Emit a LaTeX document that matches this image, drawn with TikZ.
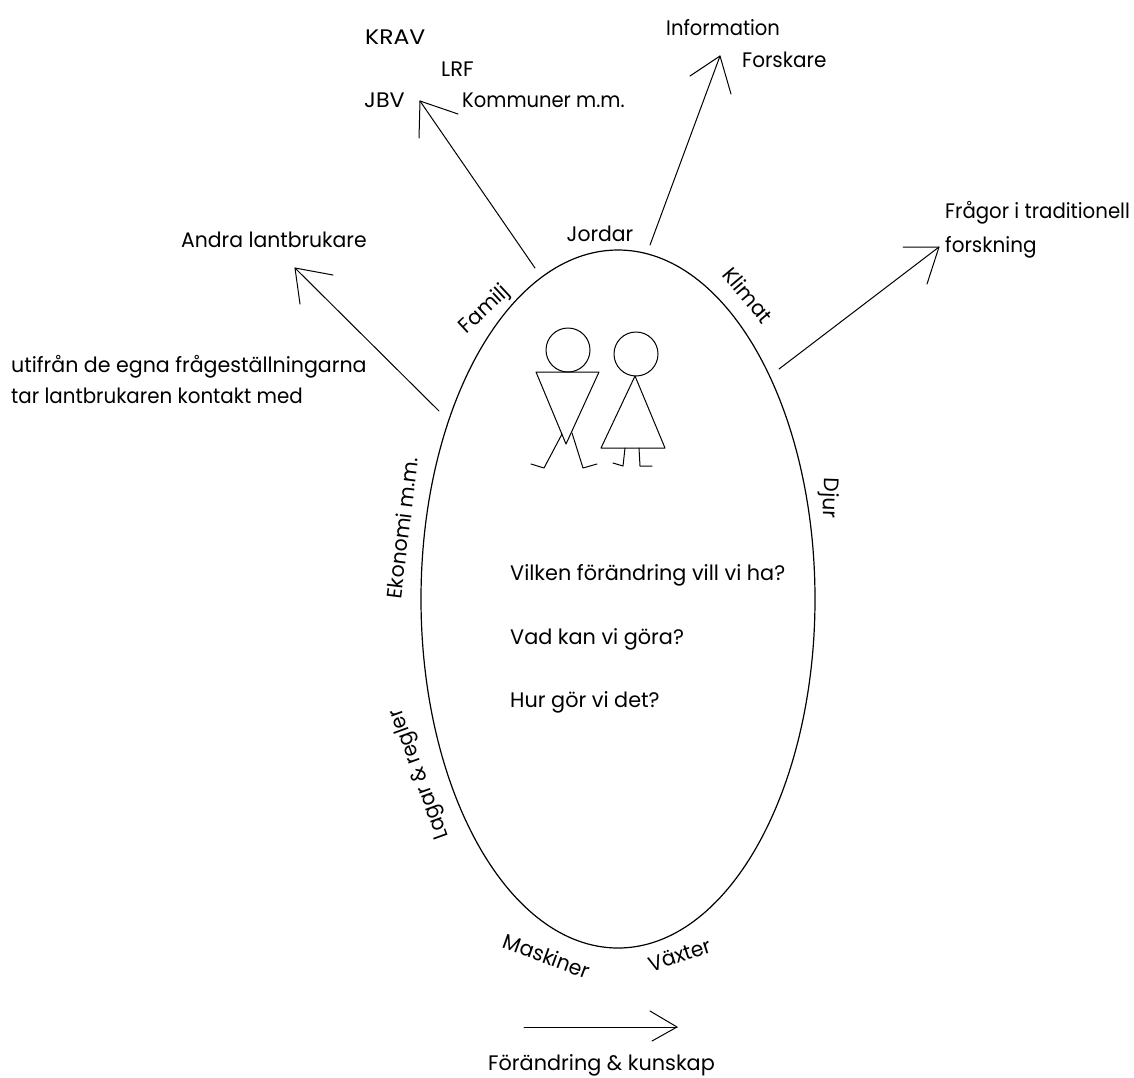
\documentclass[tikz,border=0pt]{standalone}
\usepackage{fontspec}
\usepackage{graphicx}
\usetikzlibrary{shapes.geometric}
\setmainfont{Poppins}
\newcommand{\sqz}[2]{\scalebox{#1}[1]{#2}}
\tikzset{
  ln/.style={draw=black,line width=1pt,line cap=round,line join=round},
  lbl/.style={inner sep=0pt,anchor=base west,font=\fontsize{21}{25}\selectfont},
  rlbl/.style={inner sep=0pt,anchor=center,font=\fontsize{21}{25}\selectfont},
}
\begin{document}
\begin{tikzpicture}[x=1pt,y=-1pt]
\useasboundingbox (0,0) rectangle (1134,1077);
\node[draw=black,line width=1.2pt,ellipse,minimum width=394pt,minimum height=698pt,inner sep=0pt] (oval) at (618,599) {};
% people
\node[ln,circle,minimum size=44pt,inner sep=0pt] (headA) at (568,350) {};
\node[ln,circle,minimum size=44pt,inner sep=0pt] (headB) at (636,354) {};
\draw[ln] (536,372) -- (599,372) -- (566,444) -- cycle;
\draw[ln] (562,434) -- (544,468) -- (531,464);
\draw[ln] (572,433) -- (583,468) -- (597,464);
\draw[ln] (635,376) -- (601,448) -- (665,448) -- cycle;
\draw[ln] (625,448) -- (623,466) -- (613,463);
\draw[ln] (639,448) -- (640,466) -- (652,466);
% arrows
\coordinate (a1s) at (439,411); \coordinate (a1t) at (295,268);
\coordinate (a2s) at (535,268); \coordinate (a2t) at (420,101);
\coordinate (a3s) at (650,245); \coordinate (a3t) at (720,56);
\coordinate (a4s) at (779,369); \coordinate (a4t) at (939,247);
\coordinate (a5s) at (524,1027); \coordinate (a5t) at (677,1027);
\draw[ln] (a1s) -- (a1t); \draw[ln] (333,275) -- (a1t) -- (300,304);
\draw[ln] (a2s) -- (a2t); \draw[ln] (458,114) -- (a2t) -- (419,138);
\draw[ln] (a3s) -- (a3t); \draw[ln] (690,76) -- (a3t) -- (731,94);
\draw[ln] (a4s) -- (a4t); \draw[ln] (903,247) -- (a4t) -- (927,284);
\draw[ln] (a5s) -- (a5t); \draw[ln] (650,1011) -- (a5t) -- (652,1041);
% text
\node[lbl] (t1) at (365,44) {\sqz{1.12}{KRAV}};
\node[lbl] (t2) at (441,76) {LRF};
\node[lbl] (t3) at (364,107) {\sqz{1.06}{JBV}};
\node[lbl] (t4) at (462,107) {\sqz{.93}{Kommuner m.m.}};
\node[lbl] (t5) at (666,35) {\sqz{.93}{Information}};
\node[lbl] (t6) at (742,67) {\sqz{.95}{Forskare}};
\node[lbl] (t7) at (945,218) {\sqz{.94}{Frågor i traditionell}};
\node[lbl] (t8) at (945,252) {\sqz{.95}{forskning}};
\node[lbl] (t9) at (181,247) {\sqz{.97}{Andra lantbrukare}};
\node[lbl] (t10) at (11,372) {\sqz{.98}{utifrån de egna frågeställningarna}};
\node[lbl] (t11) at (11,403) {\sqz{.945}{tar lantbrukaren kontakt med}};
\node[lbl] (t12) at (510,580) {\sqz{.99}{Vilken förändring vill vi ha?}};
\node[lbl] (t13) at (510,644) {\sqz{.99}{Vad kan vi göra?}};
\node[lbl] (t14) at (510,707) {\sqz{.99}{Hur gör vi det?}};
\node[lbl] (t15) at (488,1070) {\sqz{.99}{Förändring \& kunskap}};
\node[rlbl] (r1) at (600,234) {\sqz{.97}{Jordar}};
\node[rlbl,rotate=43] (r2) at (485,310) {\sqz{.97}{Familj}};
\node[rlbl,rotate=-50] (r3) at (748,295) {\sqz{.97}{Klimat}};
\node[rlbl,rotate=-92] (r4) at (829,498) {\sqz{.97}{Djur}};
\node[rlbl,rotate=83] (r5) at (402,528) {\sqz{.97}{Ekonomi m.m.}};
\node[rlbl,rotate=110] (r6) at (420,774) {\sqz{.93}{Lagar \& regler}};
\node[rlbl,rotate=-20] (r7) at (547,956) {\sqz{.97}{Maskiner}};
\node[rlbl,rotate=18] (r8) at (680,955) {\sqz{.97}{Växter}};
\end{tikzpicture}
\end{document}
